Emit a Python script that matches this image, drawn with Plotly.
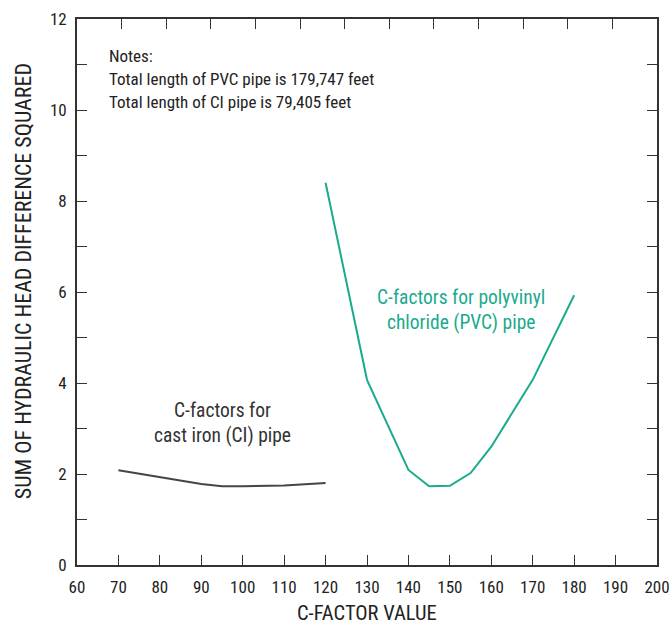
import plotly.graph_objects as go

# C-factor trials and resulting sum of squared head differences
ci_cfactor = [70, 80, 90, 95, 100, 110, 120]
ci_sum_sq = [2.08, 1.93, 1.78, 1.73, 1.73, 1.75, 1.80]

pvc_cfactor = [120, 130, 140, 145, 150, 155, 160, 170, 180]
pvc_sum_sq = [8.40, 4.07, 2.09, 1.73, 1.74, 2.02, 2.60, 4.07, 5.93]

y_tick_vals = list(range(0, 13))
y_tick_text = [str(v) if v % 2 == 0 else "" for v in y_tick_vals]
x_tick_vals = list(range(60, 201, 10))

notes = [
    "Notes:",
    "Total length of PVC pipe is 179,747 feet",
    "Total length of CI pipe is 79,405 feet",
]

FONT = "Liberation Sans Narrow, Roboto Condensed, Arial Narrow, Roboto, sans-serif"
AXIS = "#333333"
TEAL = "#1aaa8e"
GRAY = "#454545"

fig = go.Figure()
fig.add_trace(go.Scatter(x=ci_cfactor, y=ci_sum_sq, mode="lines",
                         line=dict(color=GRAY, width=2), showlegend=False))
fig.add_trace(go.Scatter(x=pvc_cfactor, y=pvc_sum_sq, mode="lines",
                         line=dict(color=TEAL, width=2), showlegend=False))
# invisible trace to activate the top axis frame
fig.add_trace(go.Scatter(x=[0], y=[0], xaxis="x2", mode="lines",
                         line=dict(width=0), showlegend=False, hoverinfo="skip"))

ann = []
for i, t in enumerate(notes):
    ann.append(dict(x=67.2, y=11.19 - i * 0.505, text=t, showarrow=False,
                    xanchor="left", yanchor="middle",
                    font=dict(family=FONT, size=17, color="#222")))
ann.append(dict(x=95, y=3.12, text="C-factors for<br>cast iron (CI) pipe",
                showarrow=False, xanchor="center", yanchor="middle",
                font=dict(family=FONT, size=19.5, color="#333")))
ann.append(dict(x=152.7, y=5.6, text="C-factors for polyvinyl<br>chloride (PVC) pipe",
                showarrow=False, xanchor="center", yanchor="middle",
                font=dict(family=FONT, size=19.5, color=TEAL)))
# axis titles
ann.append(dict(xref="paper", yref="paper", x=0.5, y=-0.087,
                text="C-FACTOR VALUE", showarrow=False,
                xanchor="center", yanchor="middle",
                font=dict(family=FONT, size=20.5, color="#222")))
ann.append(dict(xref="paper", yref="paper", x=-0.093, y=0.52,
                text="SUM OF HYDRAULIC HEAD DIFFERENCE SQUARED", showarrow=False,
                textangle=-90, xanchor="center", yanchor="middle",
                font=dict(family=FONT, size=22, color="#222")))

fig.update_layout(
    width=670, height=626,
    margin=dict(l=77, r=13, t=19, b=61, autoexpand=False),
    paper_bgcolor="white", plot_bgcolor="white",
    font=dict(family=FONT, size=17, color="#222"),
    annotations=ann,
    xaxis=dict(range=[60, 200], tickvals=x_tick_vals, ticks="inside",
               ticklen=10, tickwidth=1.2, tickcolor=AXIS,
               showline=True, linecolor=AXIS, linewidth=1.8,
               showgrid=False, zeroline=False, automargin=False,
               ticklabelstandoff=6),
    xaxis2=dict(range=[0, 13], dtick=1, overlaying="x", side="top",
                ticks="inside", ticklen=10, tickwidth=1.2, tickcolor=AXIS,
                showline=True, linecolor=AXIS, linewidth=1.8,
                showticklabels=False, showgrid=False, zeroline=False,
                automargin=False),
    yaxis=dict(range=[0, 12], tickvals=y_tick_vals, ticktext=y_tick_text,
               ticks="inside", ticklen=10, tickwidth=1.2, tickcolor=AXIS,
               showline=True, linecolor=AXIS, linewidth=1.8, mirror="ticks",
               showgrid=False, zeroline=False, automargin=False,
               ticklabelstandoff=5),
)

fig.write_html("out.html")
